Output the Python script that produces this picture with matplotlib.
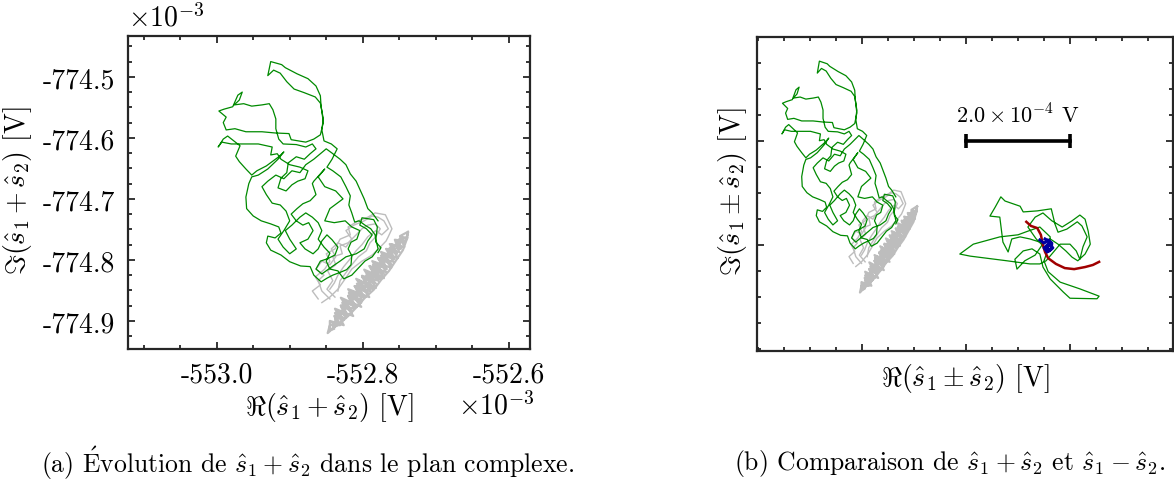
import matplotlib
matplotlib.use("Agg")
import matplotlib.pyplot as plt
from matplotlib.ticker import AutoMinorLocator

plt.rcParams['font.family'] = ['cmr10', 'DejaVu Serif']
plt.rcParams['mathtext.fontset'] = 'cm'
plt.rcParams['axes.unicode_minus'] = False
plt.rcParams['axes.formatter.use_mathtext'] = True

# s1 + s2 trajectory (green), values in mV
sum_re = [
    -552.779, -552.775, -552.782, -552.783, -552.789, -552.797, -552.805, -552.811, -552.815, -552.819,
    -552.817, -552.823, -552.830, -552.841, -552.849, -552.842, -552.835, -552.843, -552.853, -552.856,
    -552.854, -552.857, -552.858, -552.864, -552.875, -552.890, -552.906, -552.911, -552.926, -552.930,
    -552.922, -552.913, -552.904, -552.894, -552.880, -552.865, -552.858, -552.856, -552.854, -552.858,
    -552.867, -552.878, -552.898, -552.901, -552.920, -552.938, -552.960, -552.975, -552.987, -552.991,
    -552.987, -552.997, -552.990, -552.978, -552.971, -552.965, -552.969, -552.976, -552.963, -552.952,
    -552.938, -552.928, -552.923, -552.919, -552.919, -552.915, -552.909, -552.891, -552.878, -552.869,
    -552.864, -552.872, -552.880, -552.891, -552.902, -552.904, -552.912, -552.916, -552.905, -552.897,
    -552.889, -552.879, -552.875, -552.886, -552.900, -552.912, -552.917, -552.926, -552.924, -552.943,
    -552.965, -552.980, -552.993, -552.998, -552.991, -552.985, -552.968, -552.974, -552.969, -552.960,
    -552.952, -552.945, -552.932, -552.924, -552.915, -552.908, -552.916, -552.930, -552.943, -552.952,
    -552.956, -552.960, -552.959, -552.950, -552.939, -552.926, -552.915, -552.912, -552.920, -552.930,
    -552.932, -552.926, -552.912, -552.900, -552.885, -552.872, -552.867, -552.857, -552.849, -552.841,
    -552.830, -552.822, -552.816, -552.815, -552.820, -552.816, -552.808, -552.804, -552.815, -552.824,
    -552.839, -552.852, -552.845, -552.827, -552.837, -552.852, -552.861, -552.852, -552.867, -552.869,
    -552.864, -552.872, -552.882, -552.890, -552.898, -552.891, -552.882, -552.874, -552.868, -552.875,
    -552.886, -552.879, -552.868, -552.861, -552.856, -552.849, -552.842, -552.834, -552.838, -552.848,
    -552.858, -552.864, -552.856, -552.842, -552.831, -552.823, -552.809, -552.798, -552.793, -552.787,
    -552.795, -552.804, -552.801, -552.790, -552.785, -552.780, -552.782, -552.779, -552.787, -552.797,
    -552.804, -552.815, -552.826, -552.834, -552.845, -552.850, -552.845, -552.853, -552.861, -552.856,
    -552.861, -552.869, -552.878, -552.886, -552.897, -552.906, -552.900, -552.891, -552.900, -552.909,
    -552.916, -552.908, -552.900, -552.905, -552.913, -552.924, -552.932, -552.938, -552.930, -552.919,
    -552.908, -552.897, -552.886, -552.878, -552.867, -552.858, -552.850, -552.842, -552.831, -552.823,
    -552.817, -552.809, -552.804, -552.798, -552.793, -552.787, -552.779,
]
sum_im = [
    -774.788, -774.780, -774.771, -774.759, -774.749, -774.743, -774.736, -774.738, -774.723, -774.710,
    -774.695, -774.680, -774.664, -774.654, -774.648, -774.635, -774.618, -774.610, -774.605, -774.587,
    -774.569, -774.549, -774.531, -774.515, -774.503, -774.495, -774.485, -774.480, -774.475, -774.498,
    -774.489, -774.494, -774.508, -774.520, -774.526, -774.533, -774.543, -774.556, -774.575, -774.595,
    -774.602, -774.607, -774.603, -774.593, -774.592, -774.590, -774.590, -774.585, -774.587, -774.575,
    -774.566, -774.556, -774.553, -774.549, -774.530, -774.525, -774.538, -774.546, -774.544, -774.548,
    -774.546, -774.544, -774.554, -774.569, -774.585, -774.602, -774.610, -774.611, -774.615, -774.610,
    -774.618, -774.626, -774.635, -774.631, -774.641, -774.657, -774.666, -774.682, -774.687, -774.677,
    -774.671, -774.667, -774.654, -774.648, -774.644, -774.635, -774.626, -774.628, -774.615, -774.610,
    -774.610, -774.610, -774.607, -774.615, -774.602, -774.597, -774.613, -774.630, -774.639, -774.651,
    -774.661, -774.654, -774.646, -774.639, -774.631, -774.623, -774.635, -774.651, -774.661, -774.664,
    -774.675, -774.697, -774.716, -774.728, -774.736, -774.741, -774.746, -774.756, -774.764, -774.761,
    -774.772, -774.784, -774.792, -774.803, -774.810, -774.811, -774.825, -774.836, -774.830, -774.825,
    -774.820, -774.816, -774.808, -774.793, -774.782, -774.771, -774.766, -774.752, -774.746, -774.736,
    -774.739, -774.736, -774.716, -774.700, -774.687, -774.680, -774.664, -774.651, -774.671, -774.675,
    -774.693, -774.703, -774.708, -774.716, -774.725, -774.736, -774.743, -774.739, -774.752, -774.766,
    -774.772, -774.782, -774.790, -774.782, -774.769, -774.759, -774.767, -774.779, -774.792, -774.798,
    -774.802, -774.815, -774.823, -774.811, -774.802, -774.795, -774.790, -774.782, -774.769, -774.759,
    -774.749, -774.743, -774.731, -774.733, -774.734, -774.746, -774.766, -774.782, -774.795, -774.802,
    -774.811, -774.825, -774.831, -774.818, -774.815, -774.802, -774.789, -774.779, -774.766, -774.752,
    -774.739, -774.730, -774.723, -774.730, -774.743, -774.752, -774.766, -774.782, -774.790, -774.779,
    -774.766, -774.752, -774.736, -774.720, -774.710, -774.707, -774.693, -774.680, -774.671, -774.661,
    -774.667, -774.654, -774.657, -774.644, -774.635, -774.626, -774.618, -774.625, -774.635, -774.644,
    -774.659, -774.671, -774.684, -774.700, -774.716, -774.723, -774.736,
]

# reference trajectory (grey): loose loops
ref_loop_re = [
    -552.845, -552.856, -552.861, -552.853, -552.864, -552.856, -552.845, -552.837, -552.843, -552.834,
    -552.823, -552.815, -552.823, -552.812, -552.798, -552.787, -552.779, -552.771, -552.765, -552.774,
    -552.782, -552.793, -552.801, -552.809, -552.817, -552.826, -552.834, -552.839, -552.845,
]
ref_loop_im = [
    -774.864, -774.851, -774.834, -774.825, -774.815, -774.802, -774.808, -774.795, -774.782, -774.772,
    -774.779, -774.766, -774.752, -774.743, -774.736, -774.728, -774.730, -774.736, -774.749, -774.759,
    -774.752, -774.762, -774.775, -774.785, -774.798, -774.811, -774.825, -774.838, -774.848,
]
ref_loop2_re = [
    -552.838, -552.849, -552.841, -552.848, -552.837, -552.841, -552.828, -552.831, -552.820, -552.809,
    -552.801, -552.793, -552.783, -552.776, -552.782, -552.790, -552.795, -552.806, -552.815, -552.823,
    -552.831, -552.834,
]
ref_loop2_im = [
    -774.861, -774.848, -774.834, -774.818, -774.808, -774.795, -774.790, -774.777, -774.772, -774.759,
    -774.749, -774.743, -774.741, -774.749, -774.762, -774.772, -774.785, -774.795, -774.808, -774.821,
    -774.834, -774.851,
]
ref_loop3_re = [
    -552.861, -552.869, -552.858, -552.865, -552.852, -552.845, -552.850, -552.838, -552.831, -552.817,
    -552.820, -552.806, -552.793, -552.783, -552.769, -552.765, -552.760, -552.765, -552.768, -552.776,
    -552.787, -552.801, -552.815, -552.824, -552.834, -552.845, -552.856,
]
ref_loop3_im = [
    -774.864, -774.851, -774.841, -774.828, -774.815, -774.802, -774.790, -774.782, -774.766, -774.759,
    -774.746, -774.736, -774.730, -774.723, -774.726, -774.736, -774.749, -774.762, -774.769, -774.779,
    -774.792, -774.802, -774.815, -774.831, -774.848, -774.861, -774.870,
]

# reference trajectory (grey): dense band
ref_band_re = [
    -552.845, -552.839, -552.842, -552.832, -552.839, -552.826, -552.834, -552.820, -552.830, -552.815,
    -552.826, -552.808, -552.820, -552.802, -552.815, -552.798, -552.811, -552.793, -552.805, -552.787,
    -552.801, -552.782, -552.795, -552.776, -552.790, -552.771, -552.783, -552.767, -552.779, -552.761,
    -552.772, -552.757, -552.767, -552.753, -552.760, -552.748, -552.754, -552.743, -552.748, -552.739,
    -552.738,
    -552.741, -552.756, -552.750, -552.768, -552.758, -552.779, -552.768, -552.791, -552.779, -552.801,
    -552.790, -552.811, -552.801, -552.820, -552.812, -552.830, -552.823, -552.838, -552.837, -552.848,
    -552.845, -552.831, -552.838, -552.822, -552.828, -552.811, -552.819, -552.798, -552.808, -552.786,
    -552.795, -552.775, -552.786, -552.768, -552.775, -552.757, -552.763, -552.748, -552.750, -552.739,
    -552.745, -552.754, -552.764, -552.775, -552.785, -552.797, -552.808, -552.820, -552.832, -552.845,
    -552.845, -552.826, -552.838, -552.813, -552.830, -552.802, -552.820, -552.791, -552.809, -552.782,
    -552.798, -552.771, -552.787, -552.761, -552.775, -552.752, -552.763, -552.743, -552.749, -552.738,
]
ref_band_im = [
    -774.915, -774.913, -774.902, -774.905, -774.892, -774.898, -774.885, -774.892, -774.875, -774.884,
    -774.867, -774.877, -774.859, -774.870, -774.851, -774.862, -774.843, -774.854, -774.834, -774.846,
    -774.828, -774.839, -774.820, -774.831, -774.811, -774.823, -774.805, -774.815, -774.797, -774.807,
    -774.790, -774.798, -774.782, -774.790, -774.775, -774.780, -774.769, -774.772, -774.762, -774.764,
    -774.754,
    -774.769, -774.767, -774.787, -774.782, -774.803, -774.797, -774.820, -774.810, -774.834, -774.826,
    -774.851, -774.843, -774.866, -774.859, -774.880, -774.875, -774.895, -774.893, -774.908, -774.920,
    -774.907, -774.907, -774.887, -774.890, -774.870, -774.875, -774.854, -774.861, -774.839, -774.848,
    -774.825, -774.831, -774.808, -774.813, -774.793, -774.798, -774.780, -774.782, -774.766, -774.764,
    -774.784, -774.800, -774.818, -774.833, -774.849, -774.862, -774.877, -774.892, -774.905, -774.915,
    -774.900, -774.907, -774.880, -774.892, -774.862, -774.877, -774.848, -774.861, -774.831, -774.846,
    -774.816, -774.830, -774.802, -774.813, -774.787, -774.797, -774.774, -774.779, -774.761, -774.754,
]

# s1 - s2 trajectory (green, right panel)
diff_re = [
    -552.490, -552.502, -552.521, -552.540, -552.556, -552.563, -552.573, -552.579, -552.598, -552.588,
    -552.577, -552.569, -552.540, -552.534, -552.507, -552.480, -552.473, -552.467, -552.450, -552.430,
    -552.421, -552.411, -552.419, -552.425, -552.432, -552.444, -552.463, -552.479, -552.490, -552.502,
    -552.521, -552.565, -552.636, -552.656, -552.630, -552.579, -552.544, -552.525, -552.502, -552.482,
    -552.486, -552.494, -552.486, -552.463, -552.425, -552.388, -552.392, -552.444, -552.457, -552.482,
    -552.496, -552.502, -552.517, -552.534, -552.550, -552.546, -552.531, -552.511, -552.498, -552.482,
    -552.467, -552.452, -552.440, -552.429, -552.415, -552.405, -552.409, -552.415, -552.425, -552.440,
    -552.459, -552.479, -552.496, -552.511, -552.525, -552.509, -552.494,
]
diff_im = [
    -774.836, -774.823, -774.817, -774.813, -774.817, -774.842, -774.823, -774.775, -774.773, -774.756,
    -774.736, -774.744, -774.754, -774.765, -774.763, -774.759, -774.788, -774.804, -774.798, -774.784,
    -774.792, -774.813, -774.832, -774.856, -774.840, -774.827, -774.827, -774.846, -774.859, -774.865,
    -774.865, -774.859, -774.850, -774.846, -774.827, -774.813, -774.809, -774.802, -774.794, -774.813,
    -774.836, -774.859, -774.880, -774.900, -774.913, -774.927, -774.932, -774.931, -774.919, -774.894,
    -774.871, -774.846, -774.836, -774.840, -774.856, -774.875, -774.859, -774.848, -774.829, -774.817,
    -774.827, -774.840, -774.852, -774.859, -774.846, -774.827, -774.802, -774.779, -774.771, -774.782,
    -774.794, -774.782, -774.767, -774.775, -774.794, -774.817, -774.832,
]

red_re = [-552.528, -552.519, -552.507, -552.500, -552.496, -552.492, -552.486,
          -552.471, -552.454, -552.436, -552.415, -552.400, -552.388]
red_im = [-774.784, -774.792, -774.796, -774.809, -774.829, -774.842, -774.854,
          -774.865, -774.873, -774.875, -774.871, -774.867, -774.861]

blue_re = [-552.502, -552.494, -552.486, -552.479, -552.480, -552.488, -552.494,
           -552.484, -552.477, -552.484, -552.490, -552.482, -552.492]
blue_im = [-774.819, -774.825, -774.819, -774.825, -774.836, -774.842, -774.834,
           -774.829, -774.834, -774.840, -774.831, -774.823, -774.817]

xticks_a = [-553.0, -552.8, -552.6]
xticklabels_a = ['-553.0', '-552.8', '-552.6']
yticks_a = [-774.5, -774.6, -774.7, -774.8, -774.9]
yticklabels_a = ['-774.5', '-774.6', '-774.7', '-774.8', '-774.9']

xticks_b = [-552.844, -552.644, -552.444]
yticks_b = [-774.629, -774.829]
bar_x = [-552.644, -552.444]   # 2e-4 V
bar_y = -774.629

green = '#008a00'
grey = '#bdbdbd'
frame = '#262626'


def style(ax):
    for s in ax.spines.values():
        s.set_linewidth(1.6)
        s.set_color(frame)
    ax.xaxis.set_minor_locator(AutoMinorLocator(4))
    ax.yaxis.set_minor_locator(AutoMinorLocator(4))
    ax.tick_params(which='both', direction='in', top=True, right=True,
                   color=frame, width=1.3, labelsize=20, pad=9)
    ax.tick_params(which='major', length=5)
    ax.tick_params(which='minor', length=3)


def draw_sum(ax):
    for xs, ys in [(ref_loop_re, ref_loop_im), (ref_loop2_re, ref_loop2_im),
                   (ref_loop3_re, ref_loop3_im)]:
        ax.plot(xs, ys, color=grey, lw=1.0)
    ax.plot(ref_band_re, ref_band_im, color=grey, lw=1.6)
    ax.plot(sum_re, sum_im, color=green, lw=0.9)


fig = plt.figure(figsize=(11.74, 4.85), dpi=100)
axa = fig.add_axes([0.1090, 0.2784, 0.3424, 0.6454])
axb = fig.add_axes([0.6448, 0.2742, 0.3543, 0.6474])

# (a)
draw_sum(axa)
axa.set_xlim(-553.1215, -552.571)
axa.set_ylim(-774.946, -774.433)
axa.set_xticks(xticks_a)
axa.set_xticklabels(xticklabels_a)
axa.set_yticks(yticks_a)
axa.set_yticklabels(yticklabels_a)
style(axa)
axa.text(0.5, -0.185, r'$\Re(\hat{s}_1 + \hat{s}_2)$ [V]', transform=axa.transAxes,
         ha='center', va='center', fontsize=20)
axa.text(-0.276, 0.51, r'$\Im(\hat{s}_1 + \hat{s}_2)$ [V]', transform=axa.transAxes,
         ha='center', va='center', rotation=90, fontsize=20)
axa.text(0.82, -0.18, r'$\times 10^{-3}$', transform=axa.transAxes,
         ha='left', va='center', fontsize=20)
axa.text(0.0, 1.06, r'$\times 10^{-3}$', transform=axa.transAxes,
         ha='left', va='center', fontsize=20)

# (b)
draw_sum(axb)
axb.plot(diff_re, diff_im, color=green, lw=0.9)
axb.plot(red_re, red_im, color='#a00000', lw=1.8)
axb.plot(blue_re, blue_im, color='#0000a0', lw=2.2)
axb.set_xlim(-553.046, -552.246)
axb.set_ylim(-775.0325, -774.4286)
axb.set_xticks(xticks_b)
axb.set_yticks(yticks_b)
style(axb)
axb.tick_params(labelbottom=False, labelleft=False)
axb.plot(bar_x, [bar_y, bar_y], color='k', lw=2.6)
axb.plot(bar_x, [bar_y, bar_y], ls='none', marker='|', ms=10, mew=2.6, color='k')
axb.text(sum(bar_x) / 2, bar_y + 0.052, r'$2.0 \times 10^{-4}$ V',
         ha='center', va='center', fontsize=16)
axb.text(0.5, -0.083, r'$\Re(\hat{s}_1 \pm \hat{s}_2)$ [V]', transform=axb.transAxes,
         ha='center', va='center', fontsize=20)
axb.text(-0.058, 0.51, r'$\Im(\hat{s}_1 \pm \hat{s}_2)$ [V]', transform=axb.transAxes,
         ha='center', va='center', rotation=90, fontsize=20)

fig.text(0.262, 0.045, r'(a) $\acute{\mathrm{E}}$volution de $\hat{s}_1 + \hat{s}_2$ dans le plan complexe.',
         ha='center', va='center', fontsize=18.5)
fig.text(0.809, 0.045, r'(b) Comparaison de $\hat{s}_1 + \hat{s}_2$ et $\hat{s}_1 - \hat{s}_2$.',
         ha='center', va='center', fontsize=18.5)

fig.savefig('out.png', dpi=100)
